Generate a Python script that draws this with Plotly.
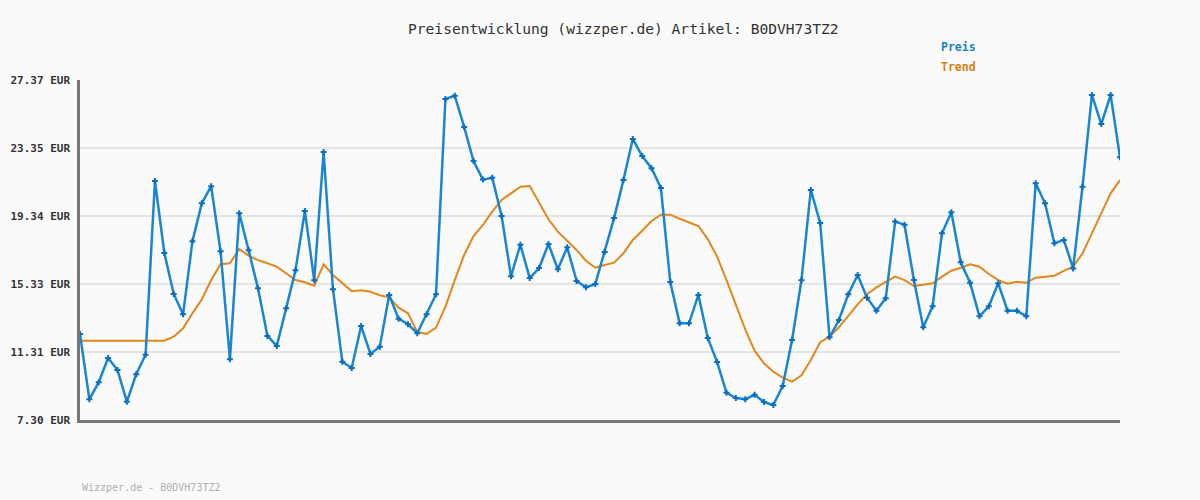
import plotly.graph_objects as go

preis = [12.38, 8.52, 9.53, 10.96, 10.25, 8.38, 10.00, 11.15, 21.41, 17.16,
         14.74, 13.54, 17.85, 20.09, 21.10, 17.26, 10.88, 19.50, 17.32, 15.07,
         12.26, 11.67, 13.89, 16.14, 19.64, 15.55, 23.12, 15.02, 10.74, 10.37,
         12.85, 11.20, 11.63, 14.68, 13.28, 12.95, 12.42, 13.54, 14.72, 26.25,
         26.44, 24.60, 22.59, 21.49, 21.60, 19.34, 15.78, 17.65, 15.68, 16.27,
         17.69, 16.20, 17.49, 15.51, 15.13, 15.33, 17.22, 19.22, 21.47, 23.89,
         22.88, 22.16, 21.00, 15.45, 13.01, 13.01, 14.68, 12.14, 10.72, 8.91,
         8.60, 8.52, 8.79, 8.36, 8.19, 9.31, 12.02, 15.55, 20.88, 18.93,
         12.18, 13.20, 14.72, 15.86, 14.52, 13.75, 14.48, 19.01, 18.83, 15.56,
         12.77, 14.01, 18.32, 19.56, 16.61, 15.40, 13.42, 14.01, 15.37, 13.75,
         13.75, 13.42, 21.27, 20.09, 17.73, 17.93, 16.25, 21.07, 26.49, 24.77,
         26.49, 22.81]

trend = [11.98, 11.98, 11.98, 11.98, 11.98, 11.98, 11.98, 11.98, 11.98, 11.98,
         12.22, 12.71, 13.60, 14.42, 15.56, 16.49, 16.55, 17.39, 17.00, 16.74,
         16.55, 16.35, 15.96, 15.56, 15.43, 15.23, 16.49, 15.86, 15.38, 14.90,
         14.96, 14.87, 14.66, 14.54, 13.93, 13.60, 12.49, 12.38, 12.75, 13.99,
         15.56, 17.04, 18.16, 18.81, 19.60, 20.29, 20.68, 21.07, 21.11, 20.09,
         19.15, 18.42, 17.88, 17.34, 16.70, 16.29, 16.45, 16.59, 17.14, 17.93,
         18.47, 19.05, 19.42, 19.42, 19.18, 18.97, 18.75, 17.98, 16.94, 15.56,
         14.13, 12.65, 11.39, 10.65, 10.15, 9.80, 9.56, 9.94, 10.84, 11.89,
         12.22, 12.77, 13.44, 14.13, 14.72, 15.13, 15.45, 15.76, 15.56, 15.21,
         15.29, 15.37, 15.76, 16.11, 16.29, 16.49, 16.35, 15.92, 15.56, 15.35,
         15.46, 15.40, 15.70, 15.76, 15.82, 16.10, 16.35, 17.14, 18.28, 19.50,
         20.68, 21.47]

tick_vals = [7.30, 11.31, 15.33, 19.34, 23.35, 27.37]
tick_text = ["7.30 EUR", "11.31 EUR", "15.33 EUR", "19.34 EUR", "23.35 EUR", "27.37 EUR"]

title_text = "Preisentwicklung (wizzper.de) Artikel: B0DVH73TZ2"
footer_text = "Wizzper.de - B0DVH73TZ2"

x = list(range(len(preis)))
BLUE = "#1a86d0"
ORANGE = "#e3871c"
MONO = "DejaVu Sans Mono"

W, H = 1200, 500
L, R, T, B = 80, 80, 80, 80
pw, ph = W - L - R, H - T - B


def px_to_paper(px, py):
    return (px - L) / pw, 1 - (py - T) / ph


fig = go.Figure()
fig.add_trace(go.Scatter(x=x, y=trend, mode="lines", name="Trend",
                         line=dict(color=ORANGE, width=2), hoverinfo="skip"))
fig.add_trace(go.Scatter(x=x, y=preis, mode="lines+markers", name="Preis",
                         line=dict(color=BLUE, width=2.5),
                         marker=dict(symbol="cross", size=5, color="#0b6fc0",
                                     line=dict(width=0))))

tx, ty = px_to_paper(623, 28)
p1x, p1y = px_to_paper(939, 47)
p2x, p2y = px_to_paper(939, 67)
fx, fy = px_to_paper(80, 487)

fig.update_layout(
    width=W, height=H,
    margin=dict(l=L, r=R, t=T, b=B, autoexpand=False),
    paper_bgcolor="#fafafa", plot_bgcolor="#fafafa",
    showlegend=False,
    xaxis=dict(range=[0, len(preis) - 1], showgrid=False, zeroline=False,
               showticklabels=False, showline=True, linecolor="#777777",
               linewidth=2.5, ticks="", automargin=False),
    yaxis=dict(range=[7.30, 27.37], tickvals=tick_vals, ticktext=tick_text,
               showgrid=True, gridcolor="#e4e4e4", gridwidth=2, zeroline=False,
               showline=True, linecolor="#777777", linewidth=2.5,
               ticks="", ticklabelstandoff=5, automargin=False,
               tickfont=dict(family=MONO, size=11, color="#333333", weight="bold")),
    annotations=[
        dict(text=title_text, x=tx, y=ty, xref="paper", yref="paper",
             xanchor="center", yanchor="middle", showarrow=False,
             font=dict(family=MONO, size=14.6, color="#333333")),
        dict(text="<b>Preis</b>", x=p1x, y=p1y, xref="paper", yref="paper",
             showarrow=False, xanchor="left", yanchor="middle",
             font=dict(family=MONO, size=11.5, color="#1a7fc8")),
        dict(text="<b>Trend</b>", x=p2x, y=p2y, xref="paper", yref="paper",
             showarrow=False, xanchor="left", yanchor="middle",
             font=dict(family=MONO, size=11.5, color="#d9800f")),
        dict(text=footer_text, x=fx, y=fy, xref="paper", yref="paper",
             showarrow=False, xanchor="left", yanchor="middle",
             font=dict(family=MONO, size=10, color="#b0b0b0")),
    ],
)

fig.write_html("out.html")
